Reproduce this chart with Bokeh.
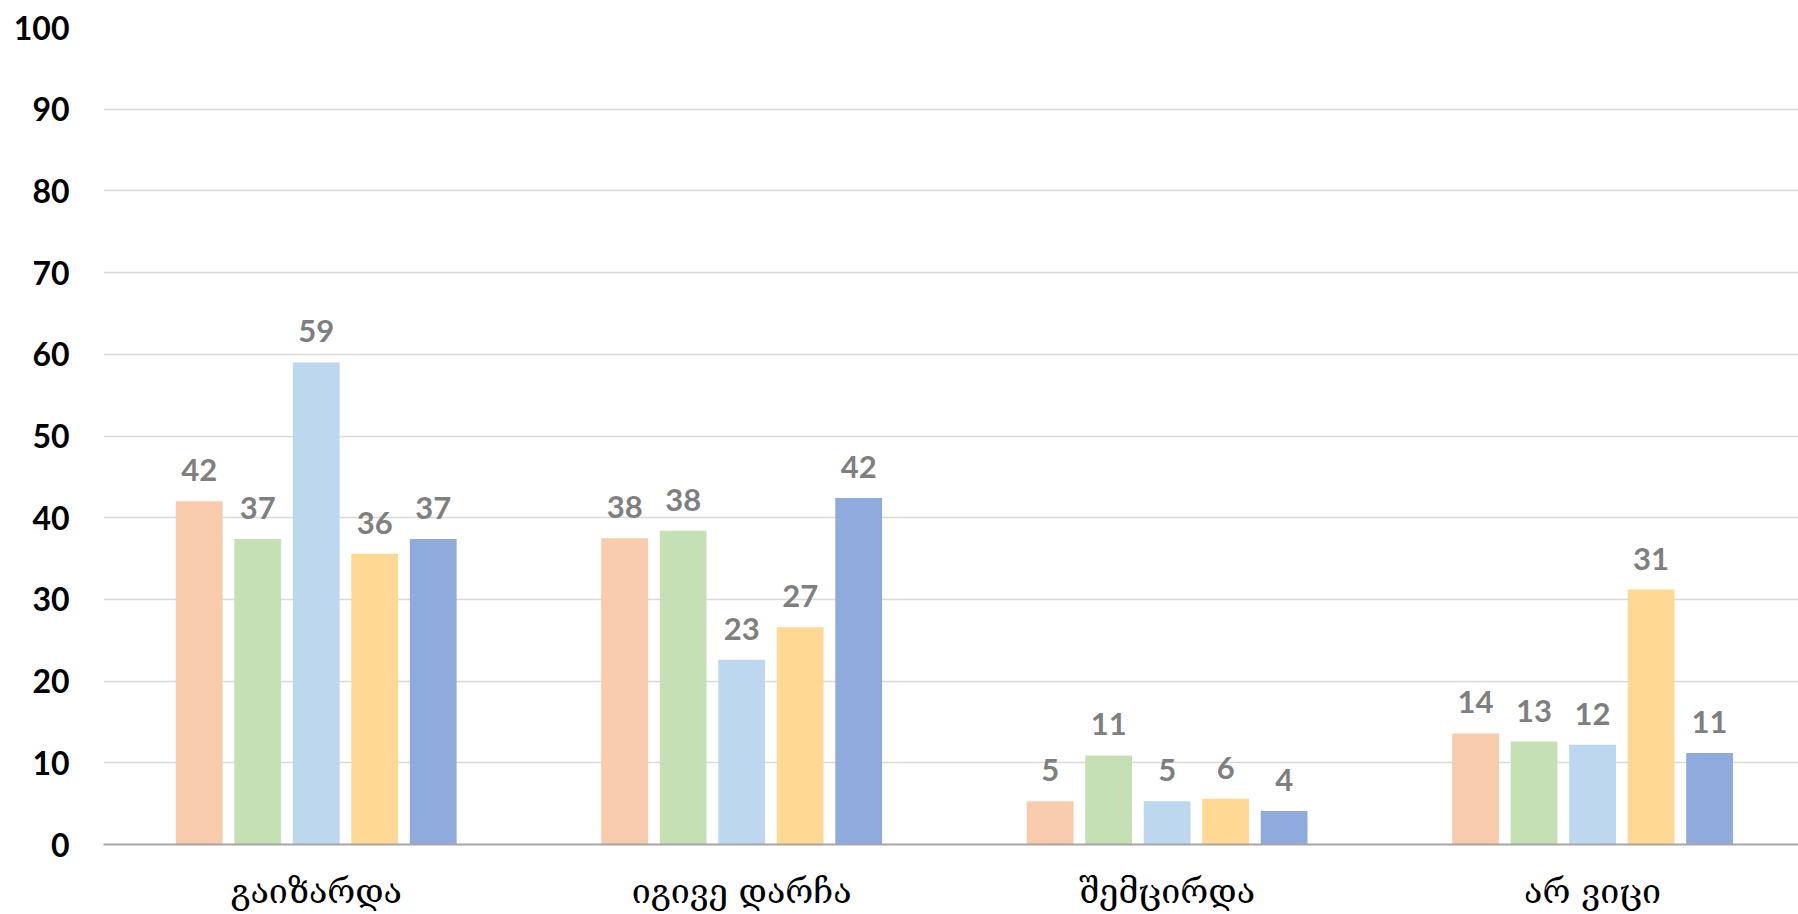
from bokeh.plotting import figure
from bokeh.models import ColumnDataSource, Range1d, FixedTicker
from bokeh.core.properties import value
from bokeh.embed import file_html
from bokeh.resources import INLINE

categories = ["გაიზარდა", "იგივე დარჩა", "შემცირდა", "არ ვიცი"]
series1 = [42.0, 37.5, 5.3, 13.6]
series2 = [37.4, 38.4, 10.9, 12.6]
series3 = [59.0, 22.6, 5.3, 12.2]
series4 = [35.6, 26.6, 5.6, 31.2]
series5 = [37.4, 42.4, 4.1, 11.2]
series = [series1, series2, series3, series4, series5]
colors = ["#F8CBAD", "#C5E0B4", "#BDD7EE", "#FFD993", "#8FAADC"]
y_ticks = [0, 10, 20, 30, 40, 50, 60, 70, 80, 90, 100]

BAR_W = 0.110
STEP = 0.1375

p = figure(width=1798, height=914, output_backend="svg", toolbar_location=None,
           x_range=Range1d(0, 3.984), y_range=Range1d(0, 100))
p.min_border = 0
p.min_border_left = 103
p.min_border_top = 27
p.min_border_bottom = 70
p.min_border_right = 0
p.outline_line_color = None
p.background_fill_color = "white"
p.border_fill_color = "white"

centers = [i + 0.5 for i in range(len(categories))]
for k, (vals, col) in enumerate(zip(series, colors)):
    xs = [c + (k - 2) * STEP for c in centers]
    src = ColumnDataSource(dict(x=xs, top=vals,
                                label=[str(int(v + 0.5)) for v in vals]))
    p.vbar(x="x", top="top", bottom=0, width=BAR_W, source=src,
           fill_color=col, line_color=None)
    p.text(x="x", y="top", text="label", source=src, text_align="center",
           text_baseline="alphabetic", y_offset=-31, text_color="#7F7F7F",
           text_font=value("Lato"), text_font_style="bold", text_font_size="31px")

# axes
p.xaxis.ticker = FixedTicker(ticks=centers)
p.xaxis.major_label_overrides = {c: lab for c, lab in zip(centers, categories)}
p.xaxis.major_label_text_font = "DejaVu Serif"
p.xaxis.major_label_text_font_size = "34px"
p.xaxis.major_label_text_color = "black"
p.xaxis.major_label_standoff = 20
p.xaxis.major_tick_line_color = None
p.xaxis.minor_tick_line_color = None
p.xaxis.axis_line_color = "#A6A6A6"
p.xaxis.axis_line_width = 2

p.yaxis.ticker = FixedTicker(ticks=y_ticks)
p.yaxis.major_label_text_font = "Lato"
p.yaxis.major_label_text_font_style = "bold"
p.yaxis.major_label_text_font_size = "32px"
p.yaxis.major_label_text_color = "black"
p.yaxis.major_label_standoff = 28
p.yaxis.major_tick_line_color = None
p.yaxis.minor_tick_line_color = None
p.yaxis.axis_line_color = None

p.xgrid.grid_line_color = None
p.ygrid.ticker = FixedTicker(ticks=y_ticks)
p.ygrid.grid_line_color = "#D9D9D9"
p.ygrid.grid_line_width = 1.5

open("out.html", "w").write(file_html(p, INLINE))
